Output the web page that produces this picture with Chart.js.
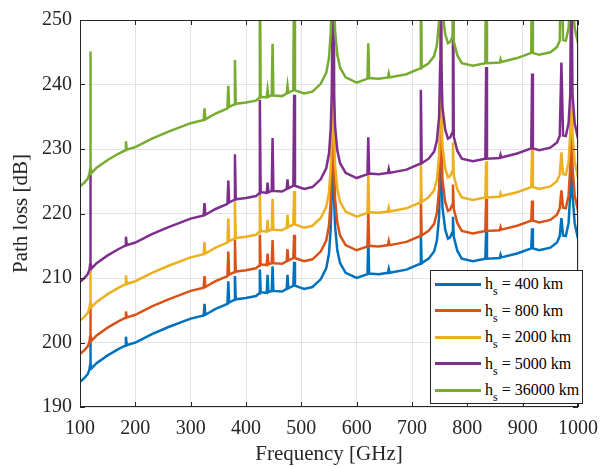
<!DOCTYPE html>
<html>
<head>
<meta charset="utf-8">
<script src="https://cdn.jsdelivr.net/npm/chart.js@4.4.0/dist/chart.umd.min.js"></script>
<style>
  html, body { margin: 0; padding: 0; background: #fff; }
  #wrap { position: relative; width: 608px; height: 467px; }
  #legend {
    position: absolute; left: 430px; top: 270px; width: 153px; height: 134px;
    border: 1px solid #262626; background: #fff; box-sizing: border-box;
    font-family: 'Liberation Serif', 'Times New Roman', serif; font-size: 16px; color: #000;
  }
  .row { position: absolute; left: 4px; height: 22px; display: flex; align-items: center; white-space: nowrap; }
  .sw { width: 46px; height: 3px; margin-right: 4px; }
  .row sub { font-size: 12px; vertical-align: -6px; line-height: 0; }
</style>
</head>
<body>
<div id="wrap">
  <canvas id="graph" width="608" height="467"></canvas>
  <div id="legend"></div>
</div>
<script>
// частоты, ГГц (общие для всех кривых)
const freq = [
  100, 108, 114, 117, 118.3, 118.75, 119.3, 121,
  130, 150, 170, 181.5, 183, 184.5, 200,
  230, 260, 300, 323.5, 325, 326.5, 345,
  366.5, 368, 369.5, 378.5, 380, 381.5, 400,
  418, 423.5, 425, 426.5, 437.5, 439, 440.5, 446.5, 448, 449.5,
  465, 473.5, 475, 476.5, 485.5, 487, 488.5, 505,
  520, 535, 545, 550, 553, 555, 556.3, 557, 557.7, 559, 561, 565, 570, 580, 600,
  619.5, 621, 622.5, 640, 656.5, 658, 659.5, 690, 714.5, 716, 717.5,
  730, 740, 745, 749, 751, 752, 753, 755, 760, 765, 769, 772.5, 774, 775.5, 782, 790,
  810, 832.5, 834, 835.5, 858.5, 860, 861.5, 890, 915.5, 917, 918.5, 930,
  950, 962, 967, 970, 973, 978, 983, 986, 988, 990, 994, 1000
];

// потери на трассе, дБ
const loss400 = [
  193.9, 194.5, 195.1, 195.8, 196.6, 200.0, 196.8, 196.0,
  196.8, 198.0, 199.0, 199.5, 200.9, 199.6, 200.0,
  201.3, 202.4, 203.7, 204.2, 206.0, 204.3, 205.2,
  206.0, 209.5, 206.2, 206.6, 210.3, 206.7, 206.9,
  207.2, 207.6, 211.3, 207.8, 207.7, 210.5, 207.8, 208.0, 211.8, 208.0,
  207.9, 208.3, 210.5, 208.4, 208.8, 212.5, 208.8, 208.3,
  208.6, 209.8, 211.5, 213.8, 217.5, 223, 236, 262, 236, 223, 218, 214.3, 212.3, 210.8, 210.0,
  210.6, 216.0, 210.7, 210.6, 210.8, 211.4, 210.8, 211.3, 212.2, 216.9, 212.3,
  213.0, 214.1, 215.8, 219.5, 228, 262, 228, 221, 217.5, 216.1, 216.3, 217.0, 219.5, 216.4, 214.2, 213.0,
  212.6, 213.0, 217.2, 213.0, 213.1, 213.6, 213.2, 213.8, 214.6, 217.7, 214.6, 214.3,
  214.7, 215.5, 216.5, 219.3, 216.6, 216.5, 218.5, 223, 232, 223, 218.5, 216.1
];
const loss800 = [
  198.2, 198.8, 199.4, 200.1, 200.9, 205.5, 201.1, 200.3,
  201.1, 202.3, 203.3, 203.8, 204.8, 203.9, 204.3,
  205.6, 206.7, 208.0, 208.5, 210.3, 208.6, 209.5,
  210.3, 214.1, 210.5, 210.9, 216.0, 211.0, 211.2,
  211.5, 211.9, 216.7, 212.1, 212.0, 213.8, 212.1, 212.3, 215.9, 212.3,
  212.2, 212.6, 214.5, 212.7, 213.1, 216.7, 213.1, 212.6,
  212.9, 214.1, 215.8, 218.1, 221.8, 227.3, 240.3, 262, 240.3, 227.3, 222.3, 218.6, 216.6, 215.1, 214.3,
  214.9, 220.5, 215.0, 214.9, 215.1, 215.7, 215.1, 215.6, 216.5, 222.3, 216.6,
  217.3, 218.4, 220.1, 223.8, 232.3, 262, 232.3, 225.3, 221.8, 220.4, 220.6, 221.3, 224.5, 220.7, 218.5, 217.3,
  216.9, 217.3, 222.3, 217.3, 217.4, 217.9, 217.5, 218.1, 218.9, 222.0, 218.9, 218.6,
  219.0, 219.8, 220.8, 223.6, 220.9, 220.8, 222.8, 227.3, 240, 227.3, 222.8, 220.4
];
const loss2000 = [
  203.4, 204.0, 204.6, 205.3, 206.1, 212.0, 206.3, 205.5,
  206.3, 207.5, 208.5, 209.0, 210.4, 209.1, 209.5,
  210.8, 211.9, 213.2, 213.7, 215.6, 213.8, 214.7,
  215.5, 219.2, 215.7, 216.1, 221.8, 216.2, 216.4,
  216.7, 217.1, 223.3, 217.3, 217.2, 219.0, 217.3, 217.5, 222.3, 217.5,
  217.4, 217.8, 219.8, 217.9, 218.3, 223.5, 218.3, 217.8,
  218.1, 219.3, 221.0, 223.3, 227.0, 232.5, 245.5, 262, 245.5, 232.5, 227.5, 223.8, 221.8, 220.3, 219.5,
  220.1, 226.0, 220.2, 220.1, 220.3, 220.9, 220.3, 220.8, 221.7, 227.5, 221.8,
  222.5, 223.6, 225.3, 229.0, 237.5, 262, 237.5, 230.5, 227.0, 225.6, 225.8, 226.5, 231.0, 225.9, 223.7, 222.5,
  222.1, 222.5, 228.1, 222.5, 222.6, 223.1, 222.7, 223.3, 224.1, 230.0, 224.1, 223.8,
  224.2, 225.0, 226.0, 229.5, 226.1, 226.0, 228.0, 232.5, 250, 232.5, 228.0, 225.6
];
const loss5000 = [
  209.4, 210.0, 210.6, 211.3, 212.1, 226.0, 212.3, 211.5,
  212.3, 213.5, 214.5, 215.0, 216.4, 215.1, 215.5,
  216.8, 217.9, 219.2, 219.7, 221.6, 219.8, 220.7,
  221.5, 225.1, 221.7, 222.1, 229.2, 222.2, 222.4,
  222.7, 223.1, 237.6, 223.3, 223.2, 224.8, 223.3, 223.5, 231.7, 223.5,
  223.4, 223.8, 225.3, 223.9, 224.3, 238.4, 224.3, 223.8,
  224.1, 225.3, 227.0, 229.3, 233.0, 238.5, 251.5, 262, 251.5, 238.5, 233.5, 229.8, 227.8, 226.3, 225.5,
  226.1, 231.8, 226.2, 226.1, 226.3, 226.9, 226.3, 226.8, 227.7, 239.2, 227.8,
  228.5, 229.6, 231.3, 235.0, 243.5, 262, 243.5, 236.5, 233.0, 231.6, 231.8, 232.5, 262, 231.9, 229.7, 228.5,
  228.1, 228.5, 242.7, 228.5, 228.6, 229.1, 228.7, 229.3, 230.1, 241.7, 230.1, 229.8,
  230.2, 231.0, 232.0, 243.4, 232.1, 232.0, 234.0, 238.5, 262, 238.5, 234.0, 231.6
];
const loss36000 = [
  224.2, 224.8, 225.4, 226.1, 226.9, 245.1, 227.1, 226.3,
  227.1, 228.3, 229.3, 229.8, 231.2, 229.9, 230.3,
  231.6, 232.7, 234.0, 234.5, 236.3, 234.6, 235.5,
  236.3, 239.8, 236.5, 236.9, 243.8, 237.0, 237.2,
  237.5, 237.9, 262, 238.1, 238.0, 239.2, 238.1, 238.3, 246.3, 238.3,
  238.2, 238.6, 239.8, 238.7, 239.1, 262, 239.1, 238.6,
  238.9, 240.1, 241.8, 244.1, 247.8, 253.3, 262, 262, 262, 253.3, 248.3, 244.6, 242.6, 241.1, 240.3,
  240.9, 246.4, 241.0, 240.9, 241.1, 241.7, 241.1, 241.6, 242.5, 262, 242.6,
  243.3, 244.4, 246.1, 249.8, 258.3, 262, 258.3, 251.3, 247.8, 246.4, 246.6, 247.3, 262, 246.7, 244.5, 243.3,
  242.9, 243.3, 262, 243.3, 243.4, 243.9, 243.5, 244.1, 244.9, 262, 244.9, 244.6,
  245.0, 245.8, 246.8, 262, 246.9, 246.8, 248.8, 253.3, 262, 253.3, 248.8, 246.4
];

const altitudes = ['400', '800', '2000', '5000', '36000'];
const series = [loss400, loss800, loss2000, loss5000, loss36000];
const colors = ['#0072BD', '#D95319', '#EDB120', '#7E2F8E', '#77AC30'];
const xTicks = [100, 200, 300, 400, 500, 600, 700, 800, 900, 1000];
const yTicks = [190, 200, 210, 220, 230, 240, 250];

const serif = "'Liberation Serif', 'Times New Roman', serif";

// рамка осей и внутренние засечки как в MATLAB
const frame = {
  id: 'frame',
  afterDatasetsDraw(chart) {
    const { ctx, chartArea: a, scales: { x, y } } = chart;
    ctx.save();
    ctx.strokeStyle = '#262626';
    ctx.lineWidth = 1;
    ctx.beginPath();
    xTicks.forEach(v => {
      const p = Math.round(x.getPixelForValue(v)) + 0.5;
      ctx.moveTo(p, a.bottom); ctx.lineTo(p, a.bottom - 5);
      ctx.moveTo(p, a.top); ctx.lineTo(p, a.top + 5);
    });
    yTicks.forEach(v => {
      const p = Math.round(y.getPixelForValue(v)) + 0.5;
      ctx.moveTo(a.left, p); ctx.lineTo(a.left + 5, p);
      ctx.moveTo(a.right, p); ctx.lineTo(a.right - 5, p);
    });
    ctx.stroke();
    ctx.strokeRect(Math.round(a.left) + 0.5, Math.round(a.top) + 0.5,
                   Math.round(a.width) - 1, Math.round(a.height) - 1);
    ctx.restore();
  }
};

const chart = new Chart(document.getElementById('graph'), {
  type: 'line',
  data: {
    datasets: series.map((arr, i) => ({
      label: 'h_s = ' + altitudes[i] + ' km',
      data: freq.map((f, k) => ({ x: f, y: arr[k] })),
      borderColor: colors[i],
      borderWidth: 2.5,
      pointRadius: 0,
      tension: 0,
      order: series.length - i
    }))
  },
  options: {
    responsive: false,
    animation: false,
    layout: { padding: { left: 0, right: 24, top: 16, bottom: 0 } },
    scales: {
      x: {
        type: 'linear',
        min: 100, max: 1000,
        afterBuildTicks: s => { s.ticks = xTicks.map(v => ({ value: v })); },
        afterFit: s => { s.height = 60; },
        grid: { color: '#e3e3e3', drawTicks: false },
        border: { display: false },
        ticks: {
          color: '#262626', font: { family: serif, size: 20 }, padding: 10,
          maxRotation: 0, autoSkip: false, callback: v => String(v)
        },
        title: { display: true, text: 'Frequency [GHz]', color: '#262626', font: { family: serif, size: 21 }, padding: { top: -2, bottom: 0 } }
      },
      y: {
        min: 190, max: 250,
        afterBuildTicks: s => { s.ticks = yTicks.map(v => ({ value: v })); },
        afterFit: s => { s.width = 80; },
        grid: { color: '#e3e3e3', drawTicks: false },
        border: { display: false },
        ticks: { color: '#262626', font: { family: serif, size: 20 }, padding: 8, callback: v => String(v) },
        title: { display: true, text: 'Path loss [dB]', color: '#262626', font: { family: serif, size: 21 }, padding: { top: 9, bottom: 0 } }
      }
    },
    plugins: {
      legend: { display: false },
      tooltip: { enabled: false }
    }
  },
  plugins: [frame]
});

// легенда с подстрочным индексом
const legend = document.getElementById('legend');
altitudes.forEach((h, i) => {
  const row = document.createElement('div');
  row.className = 'row';
  row.style.top = (2 + i * 26.5) + 'px';
  row.innerHTML = '<span class="sw" style="background:' + colors[i] + '"></span>' +
                  '<span>h<sub>s</sub> = ' + h + ' km</span>';
  legend.appendChild(row);
});
</script>
</body>
</html>
